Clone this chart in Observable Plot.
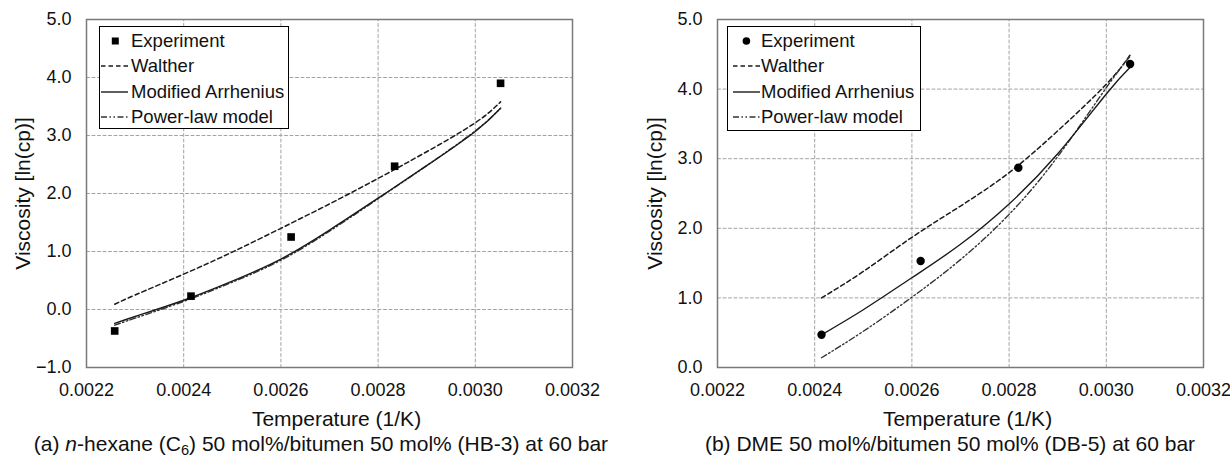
<!DOCTYPE html>
<html>
<head>
<meta charset="utf-8">
<script src="https://cdn.jsdelivr.net/npm/d3@7"></script>
<script src="https://cdn.jsdelivr.net/npm/@observablehq/plot@0.6"></script>
<style>
  html, body { margin: 0; padding: 0; background: #fff; }
  body { font-family: 'Liberation Sans', Arial, Helvetica, sans-serif; color: #111; }
  #wrap { display: flex; width: 1230px; height: 464px; overflow: hidden; }
  .panel { position: relative; width: 615px; height: 464px; }
  .panel svg { display: block; }
  .caption { font-size: 21px; line-height: 24px; height: 32px; white-space: nowrap; text-align: center; }
  .caption sub { font-size: 0.7em; vertical-align: -0.3em; line-height: 0; }
  .legend { position: absolute; border: 1.3px solid #000; background: #fff; box-sizing: border-box; font-size: 18.5px; }
  .legend .row { position: absolute; left: 0; height: 24px; line-height: 24px; white-space: nowrap; }
  .legend .sw { position: absolute; top: 6px; }
  .legend .lbl { position: absolute; top: 0; }
</style>
</head>
<body>
<div id="wrap">
  <div class="panel" id="pa"></div>
  <div class="panel" id="pb"></div>
</div>
<script>
// ---------- axis ticks ----------
const xTicks = [0.0022, 0.0024, 0.0026, 0.0028, 0.0030, 0.0032];
const xGrid = [0.0024, 0.0026, 0.0028, 0.0030];
const yTicksA = [-1, 0, 1, 2, 3, 4, 5];
const yGridA = [0, 1, 2, 3, 4];
const yTicksB = [0, 1, 2, 3, 4, 5];
const yGridB = [1, 2, 3, 4];

// ---------- text ----------
const xLabel = "Temperature (1/K)";
const yLabel = "Viscosity [ln(cp)]";
const seriesNames = ["Experiment", "Walther", "Modified Arrhenius", "Power-law model"];

// ---------- panel (a): n-hexane / bitumen (HB-3) ----------
const expA_x = [0.002258, 0.002415, 0.002621, 0.002834, 0.003052];
const expA_y = [-0.37, 0.23, 1.25, 2.47, 3.90];
const modelA_x = [0.002258, 0.0023, 0.0024, 0.0025, 0.0026, 0.0027, 0.0028, 0.0029, 0.0030, 0.003052];
const waltherA = [0.09, 0.25, 0.61, 0.99, 1.40, 1.82, 2.26, 2.72, 3.22, 3.58];
const arrheniusA = [-0.24, -0.12, 0.16, 0.49, 0.87, 1.37, 1.92, 2.48, 3.07, 3.47];
const powerA = [-0.27, -0.15, 0.14, 0.47, 0.85, 1.35, 1.91, 2.48, 3.08, 3.47];

// ---------- panel (b): DME / bitumen (DB-5) ----------
const expB_x = [0.002414, 0.002618, 0.002819, 0.003049];
const expB_y = [0.47, 1.53, 2.87, 4.36];
const modelB_x = [0.002414, 0.0025, 0.0026, 0.0027, 0.0028, 0.0029, 0.0030, 0.00305];
const waltherB = [1.00, 1.38, 1.87, 2.32, 2.80, 3.40, 4.07, 4.50];
const arrheniusB = [0.47, 0.83, 1.29, 1.77, 2.35, 3.07, 3.93, 4.32];
const powerB = [0.14, 0.52, 1.01, 1.55, 2.20, 3.03, 4.02, 4.48];

// ---------- styles ----------
const FONT = "'Liberation Sans', Arial, Helvetica, sans-serif";
const LINE = "#1a1a1a";
const GRID = "#a3a3a3";
const DASH_WALTHER = "4.5,3";
const DASH_POWER = "6,2.5,1.5,2.5,1.5,2.5";

function makePanel(opts) {
  const exp = opts.ex.map((x, i) => ({x, y: opts.ey[i]}));
  const model = opts.mx.map((x, i) => ({x, walther: opts.w[i], arrhenius: opts.a[i], power: opts.p[i]}));
  const xd = [0.0022, 0.0032], yd = opts.ydomain;
  // grid lines: each one is a two-point segment spanning the domain
  const grid = [];
  xGrid.forEach((v, i) => { grid.push({x: v, y: yd[0], g: "x" + i}, {x: v, y: yd[1], g: "x" + i}); });
  opts.ygrid.forEach((v, i) => { grid.push({x: xd[0], y: v, g: "y" + i}, {x: xd[1], y: v, g: "y" + i}); });
  return Plot.plot({
    width: 615,
    height: 432,
    marginLeft: opts.ml,
    marginRight: opts.mr,
    marginTop: 19,
    marginBottom: 65,
    style: {fontFamily: FONT, fontSize: "18px", color: "#111", background: "transparent", overflow: "visible"},
    x: {domain: xd},
    y: {domain: yd},
    marks: [
      Plot.line(grid, {x: "x", y: "y", z: "g", stroke: GRID, strokeWidth: 1, strokeDasharray: "3,2.5"}),
      Plot.frame({stroke: "#7a7a7a", strokeWidth: 1.5, fill: "none"}),
      Plot.axisX(xTicks, {tickSize: 0, tickPadding: 16, tickFormat: d3.format(".4f"), label: null}),
      Plot.axisY(opts.yticks, {tickSize: 0, tickPadding: 15, tickFormat: d3.format(".1f"), label: null}),
      Plot.line(model, {x: "x", y: "walther", stroke: LINE, strokeWidth: 1.5, strokeDasharray: DASH_WALTHER, curve: "natural"}),
      Plot.line(model, {x: "x", y: "power", stroke: "#333", strokeWidth: 1.4, strokeDasharray: DASH_POWER, curve: "natural"}),
      Plot.line(model, {x: "x", y: "arrhenius", stroke: LINE, strokeWidth: 1.4, curve: "natural"}),
      Plot.dot(exp, {x: "x", y: "y", symbol: opts.symbol, r: opts.r, fill: "#000", stroke: null}),
      Plot.text([xLabel], {frameAnchor: "bottom", dy: 58, lineAnchor: "bottom", fontSize: 21, fill: "#111", dx: 7}),
      Plot.text([yLabel], {frameAnchor: "left", rotate: -90, dx: opts.ylabDx, fontSize: 21, fill: "#111", lineAnchor: "middle", textAnchor: "middle"})
    ]
  });
}

function makeLegend(panel, o) {
  const box = document.createElement("div");
  box.className = "legend";
  Object.assign(box.style, {left: o.left + "px", top: o.top + "px", width: o.w + "px", height: o.h + "px"});
  const kinds = ["marker", "walther", "arrhenius", "power"];
  kinds.forEach((k, i) => {
    const row = document.createElement("div");
    row.className = "row";
    row.style.top = (o.firstCenter - 12 + i * o.step) + "px";
    row.style.width = "100%";
    const ns = "http://www.w3.org/2000/svg";
    const sw = document.createElementNS(ns, "svg");
    sw.setAttribute("class", "sw");
    sw.setAttribute("width", o.swW);
    sw.setAttribute("height", 12);
    sw.style.left = o.swLeft + "px";
    if (k === "marker") {
      const cx = o.markerCx - o.swLeft;
      if (o.symbol === "square") {
        const r = document.createElementNS(ns, "rect");
        r.setAttribute("x", cx - 3.5); r.setAttribute("y", 2.5);
        r.setAttribute("width", 7); r.setAttribute("height", 7);
        r.setAttribute("fill", "#000");
        sw.appendChild(r);
      } else {
        const c = document.createElementNS(ns, "circle");
        c.setAttribute("cx", cx); c.setAttribute("cy", 6); c.setAttribute("r", 3.8);
        c.setAttribute("fill", "#000");
        sw.appendChild(c);
      }
    } else {
      const l = document.createElementNS(ns, "line");
      l.setAttribute("x1", 0); l.setAttribute("x2", o.swW);
      l.setAttribute("y1", 6); l.setAttribute("y2", 6);
      l.setAttribute("stroke", k === "power" ? "#333" : LINE);
      l.setAttribute("stroke-width", 1.4);
      if (k === "walther") l.setAttribute("stroke-dasharray", DASH_WALTHER);
      if (k === "power") l.setAttribute("stroke-dasharray", DASH_POWER);
      sw.appendChild(l);
    }
    row.appendChild(sw);
    const t = document.createElement("span");
    t.className = "lbl";
    t.style.left = o.textLeft + "px";
    t.textContent = seriesNames[i];
    row.appendChild(t);
    box.appendChild(row);
  });
  panel.appendChild(box);
}

// ---------- panel a ----------
const pa = document.getElementById("pa");
pa.appendChild(makePanel({
  ex: expA_x, ey: expA_y, mx: modelA_x, w: waltherA, a: arrheniusA, p: powerA,
  ml: 86, mr: 43, ydomain: [-1, 5], yticks: yTicksA, ygrid: yGridA,
  symbol: "square", r: 4.3, ylabDx: -63
}));
const capA = document.createElement("div");
capA.className = "caption";
capA.style.paddingLeft = "27px";
capA.innerHTML = "(a) <i>n</i>-hexane (C<sub>6</sub>) 50 mol%/bitumen 50 mol% (HB-3) at 60 bar";
pa.appendChild(capA);
makeLegend(pa, {left: 99, top: 26, w: 190, h: 103, firstCenter: 14, step: 25.3,
  swLeft: 1, swW: 27, markerCx: 15.3, textLeft: 31, symbol: "square"});

// ---------- panel b ----------
const pb = document.getElementById("pb");
pb.appendChild(makePanel({
  ex: expB_x, ey: expB_y, mx: modelB_x, w: waltherB, a: arrheniusB, p: powerB,
  ml: 102, mr: 27, ydomain: [0, 5], yticks: yTicksB, ygrid: yGridB,
  symbol: "circle", r: 4.2, ylabDx: -62
}));
const capB = document.createElement("div");
capB.className = "caption";
capB.style.paddingLeft = "55px";
capB.textContent = "(b) DME 50 mol%/bitumen 50 mol% (DB-5) at 60 bar";
pb.appendChild(capB);
makeLegend(pb, {left: 112, top: 26, w: 194, h: 105, firstCenter: 14, step: 25.3,
  swLeft: 5, swW: 27, markerCx: 18.4, textLeft: 33, symbol: "circle"});
</script>
</body>
</html>
